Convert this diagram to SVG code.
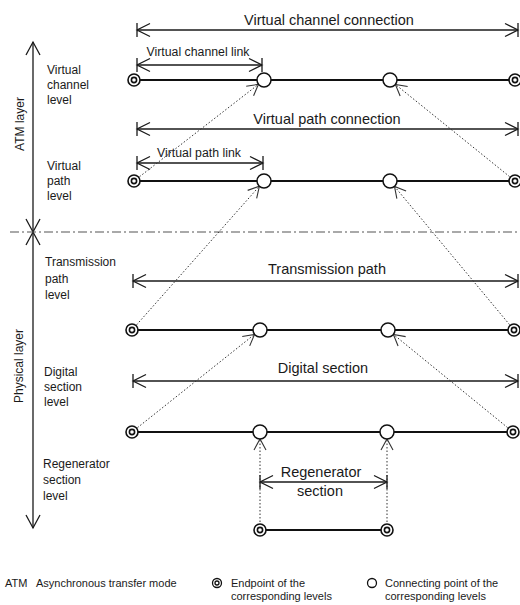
<svg xmlns="http://www.w3.org/2000/svg" width="520" height="605" viewBox="0 0 520 605">
  <defs>
    <style>
      text { font-family: "Liberation Sans", Arial, sans-serif; fill: #1a1a1a; }
      .big { font-size: 14.5px; text-anchor: middle; }
      .mid { font-size: 12.3px; text-anchor: middle; }
      .lbl { font-size: 12px; }
      .leg { font-size: 11px; }
      .dim { stroke: #1a1a1a; stroke-width: 1.3; fill: none; }
      .row { stroke: #111; stroke-width: 1.8; fill: none; }
      .dot { stroke: #333; stroke-width: 1; stroke-dasharray: 1.5 2; fill: none; }
      .axis { stroke: #1a1a1a; stroke-width: 1.3; fill: none; }
      .sep { stroke: #555; stroke-width: 1.2; stroke-dasharray: 9 3 2 3; fill: none; }
      .ep { fill: #fff; stroke: #111; stroke-width: 1.6; }
      .cp { fill: #fff; stroke: #111; stroke-width: 1.5; }
    </style>
    <!-- open chevron with end tick for dimension lines -->
    <marker id="dimEnd" markerUnits="userSpaceOnUse" markerWidth="16" markerHeight="16" viewBox="0 0 14 16" refX="13" refY="8" orient="auto-start-reverse" overflow="visible">
      <path d="M0,1.5 L13,8 L0,14.5 M13,1 L13,15" fill="none" stroke="#1a1a1a" stroke-width="1.3"/>
    </marker>
    <!-- open chevron for dotted mapping lines -->
    <marker id="chev" markerUnits="userSpaceOnUse" markerWidth="12" markerHeight="12" viewBox="0 0 11 11" refX="10" refY="5.5" orient="auto" overflow="visible">
      <path d="M0,0 L10,5.5 L0,11" fill="none" stroke="#333" stroke-width="1"/>
    </marker>
    <!-- open chevron for the layer axis -->
    <marker id="axisEnd" markerUnits="userSpaceOnUse" markerWidth="16" markerHeight="16" viewBox="0 0 14 16" refX="13" refY="8" orient="auto-start-reverse" overflow="visible">
      <path d="M0,1 L13,8 L0,15" fill="none" stroke="#1a1a1a" stroke-width="1.3"/>
    </marker>
  </defs>

  <!-- layer axis -->
  <g id="layer-axis">
    <line class="axis" x1="33" y1="42" x2="33" y2="232" marker-start="url(#axisEnd)" marker-end="url(#axisEnd)"/>
    <line class="axis" x1="33" y1="232" x2="33" y2="528" marker-start="url(#axisEnd)" marker-end="url(#axisEnd)"/>
    <text class="lbl" text-anchor="middle" transform="translate(24,124) rotate(-90)">ATM layer</text>
    <text class="lbl" text-anchor="middle" transform="translate(23,366) rotate(-90)">Physical layer</text>
    <line class="sep" x1="10" y1="232" x2="520" y2="232"/>
  </g>

  <!-- level names -->
  <g id="level-names" class="lbl">
    <text x="47" y="74">Virtual</text>
    <text x="47" y="89">channel</text>
    <text x="47" y="104">level</text>
    <text x="47" y="170">Virtual</text>
    <text x="47" y="185">path</text>
    <text x="47" y="200">level</text>
    <text x="45" y="266">Transmission</text>
    <text x="45" y="283">path</text>
    <text x="45" y="299">level</text>
    <text x="44" y="376">Digital</text>
    <text x="44" y="391">section</text>
    <text x="44" y="406">level</text>
    <text x="43" y="468">Regenerator</text>
    <text x="43" y="484">section</text>
    <text x="43" y="500">level</text>
  </g>

  <!-- extent dimensions -->
  <g id="dimensions">
    <line class="dim" x1="137" y1="30" x2="518" y2="30" marker-start="url(#dimEnd)" marker-end="url(#dimEnd)"/>
    <text class="big" x="329" y="25">Virtual channel connection</text>
    <line class="dim" x1="137" y1="65" x2="262" y2="65" marker-start="url(#dimEnd)" marker-end="url(#dimEnd)"/>
    <text class="mid" x="198" y="56">Virtual channel link</text>
    <line class="dim" x1="137" y1="129" x2="518" y2="129" marker-start="url(#dimEnd)" marker-end="url(#dimEnd)"/>
    <text class="big" x="327" y="124">Virtual path connection</text>
    <line class="dim" x1="137" y1="163" x2="263" y2="163" marker-start="url(#dimEnd)" marker-end="url(#dimEnd)"/>
    <text class="mid" x="199" y="157">Virtual path link</text>
    <line class="dim" x1="133" y1="281" x2="518" y2="281" marker-start="url(#dimEnd)" marker-end="url(#dimEnd)"/>
    <text class="big" x="327" y="274">Transmission path</text>
    <line class="dim" x1="133" y1="381" x2="518" y2="381" marker-start="url(#dimEnd)" marker-end="url(#dimEnd)"/>
    <text class="big" x="323" y="373">Digital section</text>
    <line class="dim" x1="260" y1="482" x2="387" y2="482" marker-start="url(#dimEnd)" marker-end="url(#dimEnd)"/>
    <text class="big" x="321" y="477">Regenerator</text>
    <text class="big" x="320" y="496">section</text>
  </g>

  <!-- connectors: level lines and level-to-level mappings -->
  <g id="connectors">
    <line class="row" x1="134" y1="80" x2="515" y2="80"/>
    <line class="row" x1="134" y1="181" x2="515" y2="181"/>
    <line class="row" x1="132" y1="330" x2="514" y2="330"/>
    <line class="row" x1="132" y1="432" x2="513" y2="432"/>
    <line class="row" x1="260" y1="530" x2="387" y2="530"/>

    <line class="dot" x1="134" y1="181" x2="258.5" y2="84.3" marker-end="url(#chev)"/>
    <line class="dot" x1="515" y1="181" x2="395.4" y2="84.4" marker-end="url(#chev)"/>
    <line class="dot" x1="132" y1="330" x2="259.4" y2="186.2" marker-end="url(#chev)"/>
    <line class="dot" x1="514" y1="330" x2="394.5" y2="186.4" marker-end="url(#chev)"/>
    <line class="dot" x1="132" y1="432" x2="254.5" y2="334.4" marker-end="url(#chev)"/>
    <line class="dot" x1="513" y1="432" x2="393.4" y2="334.4" marker-end="url(#chev)"/>
    <line class="dot" x1="260" y1="536" x2="260" y2="439" marker-end="url(#chev)"/>
    <line class="dot" x1="387" y1="536" x2="387" y2="439" marker-end="url(#chev)"/>
  </g>

  <!-- virtual channel level points -->
  <g id="vc-ep-a"><circle class="ep" cx="134" cy="80" r="6"/><circle class="ep" cx="134" cy="80" r="2.6"/></g>
  <g id="vc-cp-a"><circle class="cp" cx="264" cy="80" r="7"/></g>
  <g id="vc-cp-b"><circle class="cp" cx="390" cy="80" r="7"/></g>
  <g id="vc-ep-b"><circle class="ep" cx="515" cy="80" r="6"/><circle class="ep" cx="515" cy="80" r="2.6"/></g>

  <!-- virtual path level points -->
  <g id="vp-ep-a"><circle class="ep" cx="134" cy="181" r="6"/><circle class="ep" cx="134" cy="181" r="2.6"/></g>
  <g id="vp-cp-a"><circle class="cp" cx="264" cy="181" r="7"/></g>
  <g id="vp-cp-b"><circle class="cp" cx="390" cy="181" r="7"/></g>
  <g id="vp-ep-b"><circle class="ep" cx="515" cy="181" r="6"/><circle class="ep" cx="515" cy="181" r="2.6"/></g>

  <!-- transmission path level points -->
  <g id="tp-ep-a"><circle class="ep" cx="132" cy="330" r="6"/><circle class="ep" cx="132" cy="330" r="2.6"/></g>
  <g id="tp-cp-a"><circle class="cp" cx="260" cy="330" r="7"/></g>
  <g id="tp-cp-b"><circle class="cp" cx="388" cy="330" r="7"/></g>
  <g id="tp-ep-b"><circle class="ep" cx="514" cy="330" r="6"/><circle class="ep" cx="514" cy="330" r="2.6"/></g>

  <!-- digital section level points -->
  <g id="ds-ep-a"><circle class="ep" cx="132" cy="432" r="6"/><circle class="ep" cx="132" cy="432" r="2.6"/></g>
  <g id="ds-cp-a"><circle class="cp" cx="260" cy="432" r="7"/></g>
  <g id="ds-cp-b"><circle class="cp" cx="387" cy="432" r="7"/></g>
  <g id="ds-ep-b"><circle class="ep" cx="513" cy="432" r="6"/><circle class="ep" cx="513" cy="432" r="2.6"/></g>

  <!-- regenerator section level points -->
  <g id="rs-ep-a"><circle class="ep" cx="260" cy="530" r="6"/><circle class="ep" cx="260" cy="530" r="2.6"/></g>
  <g id="rs-ep-b"><circle class="ep" cx="387" cy="530" r="6"/><circle class="ep" cx="387" cy="530" r="2.6"/></g>

  <!-- legend -->
  <g id="legend" class="leg">
    <text x="5" y="587">ATM</text>
    <text x="36" y="587">Asynchronous transfer mode</text>
    <circle class="ep" cx="217" cy="583" r="4.5" style="stroke-width:1.3"/>
    <circle class="ep" cx="217" cy="583" r="2" style="stroke-width:1.3"/>
    <text x="231" y="587">Endpoint of the</text>
    <text x="231" y="600">corresponding levels</text>
    <circle class="cp" cx="372" cy="583" r="4.5" style="stroke-width:1.3"/>
    <text x="385" y="587">Connecting point of the</text>
    <text x="385" y="600">corresponding levels</text>
  </g>
</svg>
